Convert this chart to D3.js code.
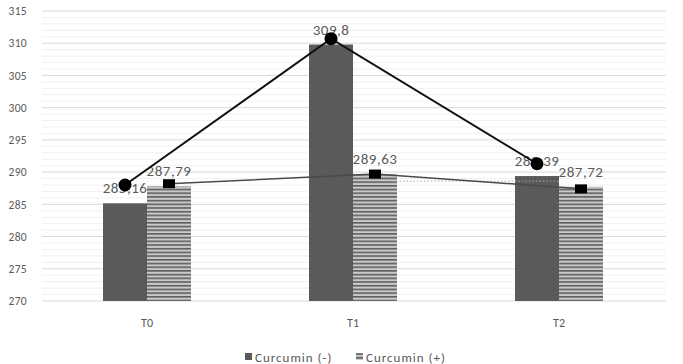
<!DOCTYPE html>
<html>
<head>
<meta charset="utf-8">
<script src="https://cdnjs.cloudflare.com/ajax/libs/d3/7.8.5/d3.min.js"></script>
<style>
  body { margin: 0; background: #fff; }
  text { font-family: Calibri, Carlito, "Open Sans", "DejaVu Sans", sans-serif; fill: #595959; }
</style>
</head>
<body>
<div class="js-vis"></div>
<script>
const categories = ['T0', 'T1', 'T2']
const series = ['Curcumin (-)', 'Curcumin (+)']
const barMinus = [285.16, 309.8, 289.39]
const barPlus = [287.79, 289.63, 287.72]
const labelMinus = ['285,16', '309,8', '289,39']
const labelPlus = ['287,79', '289,63', '287,72']
// marker lines as they sit in the picture
const lineMinus = [288.0, 310.7, 291.3]
const linePlus = [288.2, 289.7, 287.4]
const yTicks = [270, 275, 280, 285, 290, 295, 300, 305, 310, 315]
const dottedLevel = 288.6

const W = 683, H = 364

const svg = d3.select('.js-vis').append('svg')
    .attr('width', W)
    .attr('height', H)

const defs = svg.append('defs')
const pat = defs.append('pattern')
    .attr('id', 'stripes')
    .attr('patternUnits', 'userSpaceOnUse')
    .attr('width', 8)
    .attr('height', 3.7)
pat.append('rect').attr('width', 8).attr('height', 3.7).attr('fill', '#c9c9c9')
pat.append('rect').attr('y', 0).attr('width', 8).attr('height', 1.6).attr('fill', '#5e5e5e')

const x = d3.scaleBand()
    .domain(categories)
    .range([44, 662])
    .paddingInner(0.573)
    .paddingOuter(0.2865)

const xs = d3.scaleBand()
    .domain(series)
    .range([0, x.bandwidth()])

const y = d3.scaleLinear()
    .domain([270, 315])
    .range([301, 11])

// minor grid
svg.append('g').selectAll('line')
    .data(d3.range(271, 315).filter(v => v % 5 != 0))
  .enter().append('line')
    .attr('x1', 42).attr('x2', 666)
    .attr('y1', d => y(d)).attr('y2', d => y(d))
    .attr('stroke', '#f1f1f1')
    .attr('stroke-width', 1)

// major grid
svg.append('g').selectAll('line')
    .data(yTicks)
  .enter().append('line')
    .attr('x1', 42).attr('x2', 666)
    .attr('y1', d => y(d)).attr('y2', d => y(d))
    .attr('stroke', '#d9d9d9')
    .attr('stroke-width', 1)

const yax = d3.axisLeft(y).tickValues(yTicks).tickSize(0).tickPadding(0)
const yg = svg.append('g')
    .attr('transform', 'translate(27,0)')
    .call(yax)
yg.select('.domain').remove()
yg.selectAll('text')
    .style('font-size', '11.5px')
    .style('letter-spacing', '0.3px')
    .attr('fill', '#595959')
    .style('font-family', null)

const xax = d3.axisBottom(x).tickSize(0).tickPadding(0)
const xg = svg.append('g')
    .attr('transform', 'translate(0,318)')
    .call(xax)
xg.select('.domain').remove()
xg.selectAll('text')
    .style('font-size', '12px')
    .attr('fill', '#595959')
    .style('font-family', null)

const rows = categories.map((c, i) => ({ cat: c, minus: barMinus[i], plus: barPlus[i] }))

const groups = svg.append('g').selectAll('g')
    .data(rows)
  .enter().append('g')
    .attr('transform', d => 'translate(' + x(d.cat) + ',0)')

groups.append('rect')
    .attr('x', xs(series[0]))
    .attr('width', xs.bandwidth())
    .attr('y', d => y(d.minus))
    .attr('height', d => y(270) - y(d.minus))
    .attr('fill', '#5a5a5a')

groups.append('rect')
    .attr('x', xs(series[1]))
    .attr('width', xs.bandwidth())
    .attr('y', d => y(d.plus))
    .attr('height', d => y(270) - y(d.plus))
    .attr('fill', 'url(#stripes)')

// dotted line between T1 (+) and T2 (-)
svg.append('line')
    .attr('x1', x('T1') + xs(series[1]) + xs.bandwidth() - 8)
    .attr('x2', x('T2') + xs(series[1]))
    .attr('y1', y(dottedLevel)).attr('y2', y(dottedLevel))
    .attr('stroke', '#a6a6a6')
    .attr('stroke-width', 1)
    .attr('stroke-dasharray', '1.5,2')

const cx0 = c => x(c) + xs(series[0]) + xs.bandwidth() / 2
const cx1 = c => x(c) + xs(series[1]) + xs.bandwidth() / 2

// data labels
groups.append('text')
    .attr('x', d => xs(series[0]) + xs.bandwidth() / 2)
    .attr('y', d => y(d.minus) - 10)
    .attr('text-anchor', 'middle')
    .style('font-size', '15px')
    .style('letter-spacing', '0.5px')
    .text((d, i) => labelMinus[i])

groups.append('text')
    .attr('x', d => xs(series[1]) + xs.bandwidth() / 2)
    .attr('y', d => y(d.plus) - 10)
    .attr('text-anchor', 'middle')
    .style('font-size', '15px')
    .style('letter-spacing', '0.5px')
    .text((d, i) => labelPlus[i])

// lines
const lineP = d3.line()
    .x((d, i) => cx1(categories[i]))
    .y(d => y(d))
svg.append('path')
    .datum(linePlus)
    .attr('d', lineP)
    .attr('fill', 'none')
    .attr('stroke', '#4a4a4a')
    .attr('stroke-width', 1.5)

const lineM = d3.line()
    .x((d, i) => cx0(categories[i]))
    .y(d => y(d))
svg.append('path')
    .datum(lineMinus)
    .attr('d', lineM)
    .attr('fill', 'none')
    .attr('stroke', '#111')
    .attr('stroke-width', 2)

svg.append('g').selectAll('rect')
    .data(linePlus)
  .enter().append('rect')
    .attr('x', (d, i) => cx1(categories[i]) - 6)
    .attr('y', d => y(d) - 4.5)
    .attr('width', 12)
    .attr('height', 9)
    .attr('fill', '#000')

svg.append('g').selectAll('circle')
    .data(lineMinus)
  .enter().append('circle')
    .attr('cx', (d, i) => cx0(categories[i]))
    .attr('cy', d => y(d))
    .attr('r', 6.5)
    .attr('fill', '#000')

// legend
const leg = svg.append('g').attr('transform', 'translate(0,357)')
leg.append('rect').attr('x', 245).attr('y', -4).attr('width', 7).attr('height', 7).attr('fill', '#5a5a5a')
leg.append('text').attr('x', 255).attr('y', 4.5).style('font-size', '13px').style('letter-spacing', '1px').text(series[0])
leg.append('rect').attr('x', 356).attr('y', -4).attr('width', 7).attr('height', 7).attr('fill', 'url(#stripes)')
leg.append('text').attr('x', 366).attr('y', 4.5).style('font-size', '13px').style('letter-spacing', '1px').text(series[1])
</script>
</body>
</html>
